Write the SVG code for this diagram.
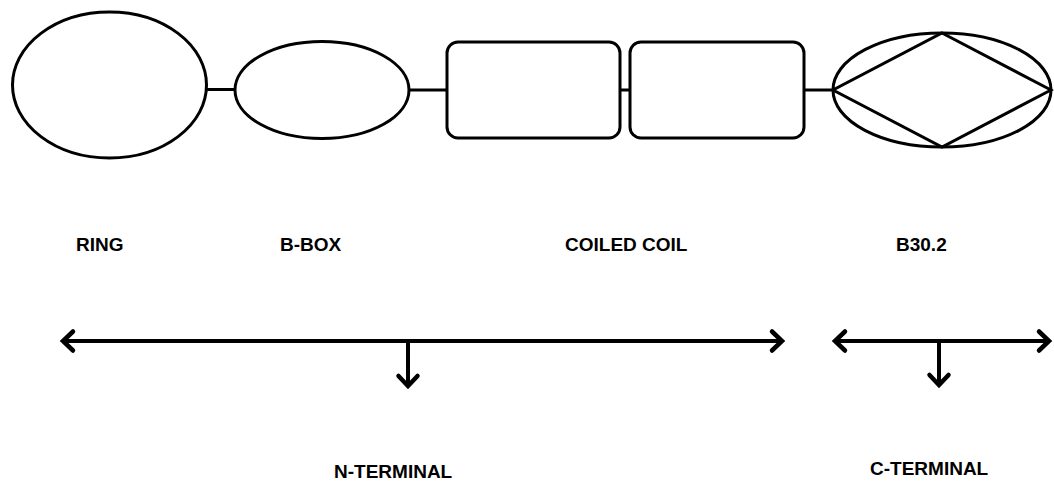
<svg xmlns="http://www.w3.org/2000/svg" width="1054" height="482" viewBox="0 0 1054 482">
  <style>
    .shape { fill: #ffffff; stroke: #000000; stroke-width: 3; }
    .link { fill: none; stroke: #000000; stroke-width: 3; }
    .arrow { fill: none; stroke: #000000; stroke-width: 4; }
    .label { font-family: "Liberation Sans", Arial, sans-serif; font-weight: bold; font-size: 19px; fill: #000000; }
  </style>
  <defs>
    <marker id="chev" viewBox="-16 -14 20 28" markerWidth="20" markerHeight="28" markerUnits="userSpaceOnUse" refX="0" refY="0" orient="auto-start-reverse">
      <path d="M-11,-9.5 L-1,0 L-11,9.5" fill="none" stroke="#000" stroke-width="4.5" stroke-linecap="round"/>
    </marker>
  </defs>
  <rect width="1054" height="482" fill="#ffffff"/>

  <g id="connectors">
    <line class="link" x1="206" y1="89.5" x2="236" y2="89.5"/>
    <line class="link" x1="408" y1="90" x2="448" y2="90"/>
    <line class="link" x1="619" y1="90" x2="631" y2="90"/>
    <line class="link" x1="803" y1="90" x2="834" y2="90"/>
  </g>

  <g id="ring">
    <ellipse class="shape" cx="109.5" cy="85" rx="97" ry="73"/>
  </g>
  <g id="bbox">
    <ellipse class="shape" cx="322" cy="90" rx="87" ry="48.5"/>
  </g>
  <g id="coiled-coil-1">
    <rect class="shape" x="447" y="42" width="173" height="96" rx="11" ry="11"/>
  </g>
  <g id="coiled-coil-2">
    <rect class="shape" x="630" y="42" width="174" height="96" rx="11" ry="11"/>
  </g>
  <g id="b302">
    <ellipse class="shape" cx="942" cy="90" rx="109" ry="57"/>
    <polygon class="link" points="942,33 1051,90 942,147 833,90"/>
  </g>

  <g id="labels">
    <text class="label" x="76" y="251">RING</text>
    <text class="label" x="280" y="251">B-BOX</text>
    <text class="label" x="565" y="251">COILED COIL</text>
    <text class="label" x="896" y="251">B30.2</text>
  </g>

  <g id="n-terminal">
    <line class="arrow" x1="62" y1="341" x2="783" y2="341" marker-start="url(#chev)" marker-end="url(#chev)"/>
    <line class="arrow" x1="408" y1="341" x2="408" y2="387" marker-end="url(#chev)"/>
    <text class="label" x="334" y="478">N-TERMINAL</text>
  </g>

  <g id="c-terminal">
    <line class="arrow" x1="834" y1="341" x2="1050" y2="341" marker-start="url(#chev)" marker-end="url(#chev)"/>
    <line class="arrow" x1="939" y1="341" x2="939" y2="386" marker-end="url(#chev)"/>
    <text class="label" x="870" y="475">C-TERMINAL</text>
  </g>
</svg>
